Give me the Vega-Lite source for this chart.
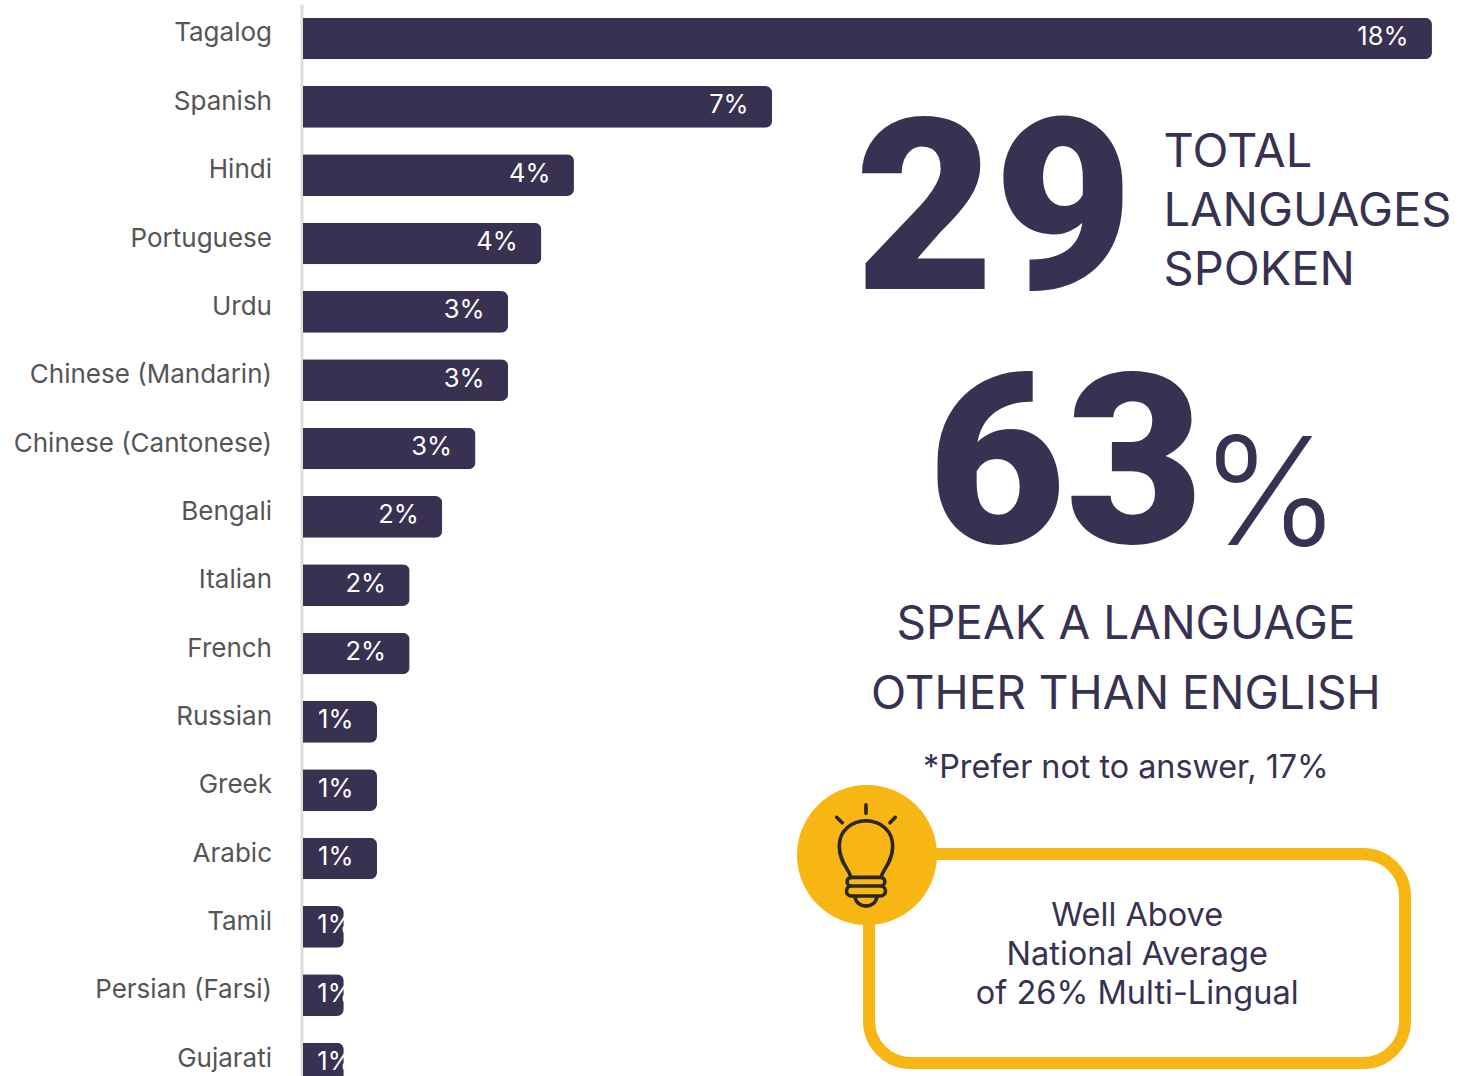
{
  "$schema": "https://vega.github.io/schema/vega-lite/v6.json",
  "autosize": {"type": "none"},
  "padding": {"left": 303, "top": 0, "right": 0, "bottom": 0},
  "width": 1157,
  "height": 1076,
  "background": "white",
  "config": {"view": {"stroke": null}, "font": "Inter"},
  "datasets": {
    "languages": [
      {"language": "Tagalog", "share": 0.18},
      {"language": "Spanish", "share": 0.0748},
      {"language": "Hindi", "share": 0.0432},
      {"language": "Portuguese", "share": 0.038},
      {"language": "Urdu", "share": 0.0327},
      {"language": "Chinese (Mandarin)", "share": 0.0327},
      {"language": "Chinese (Cantonese)", "share": 0.0275},
      {"language": "Bengali", "share": 0.0222},
      {"language": "Italian", "share": 0.017},
      {"language": "French", "share": 0.017},
      {"language": "Russian", "share": 0.0118},
      {"language": "Greek", "share": 0.0118},
      {"language": "Arabic", "share": 0.0118},
      {"language": "Tamil", "share": 0.0065},
      {"language": "Persian (Farsi)", "share": 0.0065},
      {"language": "Gujarati", "share": 0.0065}
    ]
  },
  "data": {"name": "languages"},
  "encoding": {
    "y": {
      "field": "language",
      "type": "nominal",
      "sort": null,
      "title": null,
      "scale": {"range": [4.33, 1097.7], "paddingInner": 0.39, "paddingOuter": 0.195},
      "axis": {
        "ticks": false,
        "domainColor": "#dddddd",
        "domainWidth": 3,
        "offset": 1.5,
        "labelFont": "Inter",
        "labelFontSize": 26,
        "labelColor": "#555555",
        "labelPadding": 30,
        "labelOffset": -5,
        "labelLimit": 300
      }
    }
  },
  "layer": [
    {
      "mark": {"type": "bar", "color": "#383152", "cornerRadiusEnd": 7},
      "encoding": {
        "x": {
          "field": "share",
          "type": "quantitative",
          "axis": null,
          "scale": {"domain": [0, 0.18447], "nice": false, "zero": true}
        }
      }
    },
    {
      "transform": [{"filter": "datum.share >= 0.01"}],
      "mark": {"type": "text", "align": "right", "baseline": "middle", "dx": -23.5, "dy": -1.5, "fontSize": 25.5, "color": "white"},
      "encoding": {
        "x": {"field": "share", "type": "quantitative"},
        "text": {"field": "share", "type": "quantitative", "format": ".0%"}
      }
    },
    {
      "transform": [{"filter": "datum.share < 0.01"}],
      "mark": {"type": "text", "align": "right", "baseline": "middle", "dx": 9, "dy": -1.5, "fontSize": 25.5, "color": "white"},
      "encoding": {
        "x": {"field": "share", "type": "quantitative"},
        "text": {"field": "share", "type": "quantitative", "format": ".0%"}
      }
    },
    {
      "description": "Trims the labels that run past the end of the shortest bars",
      "transform": [{"filter": "datum.share < 0.01"}],
      "mark": {"type": "tick", "orient": "vertical", "color": "white", "opacity": 1, "thickness": 14, "size": 44, "xOffset": 7.5},
      "encoding": {"x": {"field": "share", "type": "quantitative"}}
    },
    {
      "data": {"values": [{"label": "29"}]},
      "mark": {"type": "text", "align": "left", "baseline": "alphabetic", "font": "Roboto", "fontSize": 240, "fontWeight": 900, "color": "#383152", "dy": 45.5},
      "encoding": {"x": {"datum": 0.0880}, "y": {"datum": "Portuguese"}, "text": {"field": "label"}}
    },
    {
      "data": {"values": [{"label": ["TOTAL", "LANGUAGES", "SPOKEN"]}]},
      "mark": {"type": "text", "align": "left", "baseline": "alphabetic", "fontSize": 47, "lineHeight": 59, "color": "#383152", "dy": 60},
      "encoding": {"x": {"datum": 0.1372}, "y": {"datum": "Spanish"}, "text": {"field": "label"}}
    },
    {
      "data": {"values": [{"label": "63"}]},
      "mark": {"type": "text", "align": "left", "baseline": "alphabetic", "font": "Roboto", "fontSize": 238, "fontWeight": 900, "color": "#383152", "dy": 26},
      "encoding": {"x": {"datum": 0.0996}, "y": {"datum": "Bengali"}, "text": {"field": "label"}}
    },
    {
      "data": {"values": [{"label": "%"}]},
      "mark": {"type": "text", "align": "left", "baseline": "alphabetic", "fontSize": 150, "fontWeight": 300, "color": "#383152", "dy": 28},
      "encoding": {"x": {"datum": 0.1430}, "y": {"datum": "Bengali"}, "text": {"field": "label"}}
    },
    {
      "data": {"values": [{"label": ["SPEAK A LANGUAGE", "OTHER THAN ENGLISH"]}]},
      "mark": {"type": "text", "align": "center", "baseline": "alphabetic", "fontSize": 46, "lineHeight": 70, "color": "#383152", "dy": 53.5},
      "encoding": {"x": {"datum": 0.1312}, "y": {"datum": "Italian"}, "text": {"field": "label"}}
    },
    {
      "data": {"values": [{"label": "*Prefer not to answer, 17%"}]},
      "mark": {"type": "text", "align": "center", "baseline": "alphabetic", "fontSize": 32.3, "color": "#383152", "dy": -12.5},
      "encoding": {"x": {"datum": 0.1312}, "y": {"datum": "Greek"}, "text": {"field": "label"}}
    },
    {
      "data": {"values": [{"callout": "multilingual"}]},
      "mark": {"type": "rect", "fill": "white", "stroke": "#F7B614", "strokeWidth": 12, "cornerRadius": 42, "yOffset": -4.5, "y2Offset": -0.5},
      "encoding": {
        "x": {"datum": 0.09024},
        "x2": {"datum": 0.17570},
        "y": {"datum": "Arabic"},
        "y2": {"datum": "Gujarati"}
      }
    },
    {
      "data": {"values": [{"callout": "badge"}]},
      "mark": {"type": "point", "filled": true, "opacity": 1, "color": "#F7B614", "size": 19600, "yOffset": -3.5},
      "encoding": {"x": {"datum": 0.08992}, "y": {"datum": "Arabic"}}
    },
    {
      "data": {"values": [{"callout": "bulb"}]},
      "mark": {
        "type": "point",
        "filled": false,
        "opacity": 1,
        "stroke": "#2a2620",
        "strokeWidth": 3.6,
        "strokeCap": "round",
        "size": 10000,
        "yOffset": -3.5,
        "shape": "M-.306 .446C-.32 .3 -.534 .16 -.534 -.18C-.534 -.48 -.294 -.686 0 -.686C.294 -.686 .534 -.48 .534 -.18C.534 .16 .32 .3 .306 .446M-.29 .446H.29A.087 .087 0 0 1 .29 .62H-.29A.087 .087 0 0 1 -.29 .446ZM-.29 .62H.29A.1 .1 0 0 1 .29 .82H-.29A.1 .1 0 0 1 -.29 .62ZM-.22 .82C-.2 1.09 .2 1.09 .22 .82M0 -1.006V-.834M-.586 -.754L-.474 -.646M.586 -.754L.48 -.646"
      },
      "encoding": {"x": {"datum": 0.08976}, "y": {"datum": "Arabic"}}
    },
    {
      "data": {"values": [{"label": ["Well Above", "National Average", "of 26% Multi-Lingual"]}]},
      "mark": {"type": "text", "align": "center", "baseline": "alphabetic", "fontSize": 32.5, "lineHeight": 39, "color": "#383152", "dy": 67},
      "encoding": {"x": {"datum": 0.1330}, "y": {"datum": "Arabic"}, "text": {"field": "label"}}
    }
  ]
}
